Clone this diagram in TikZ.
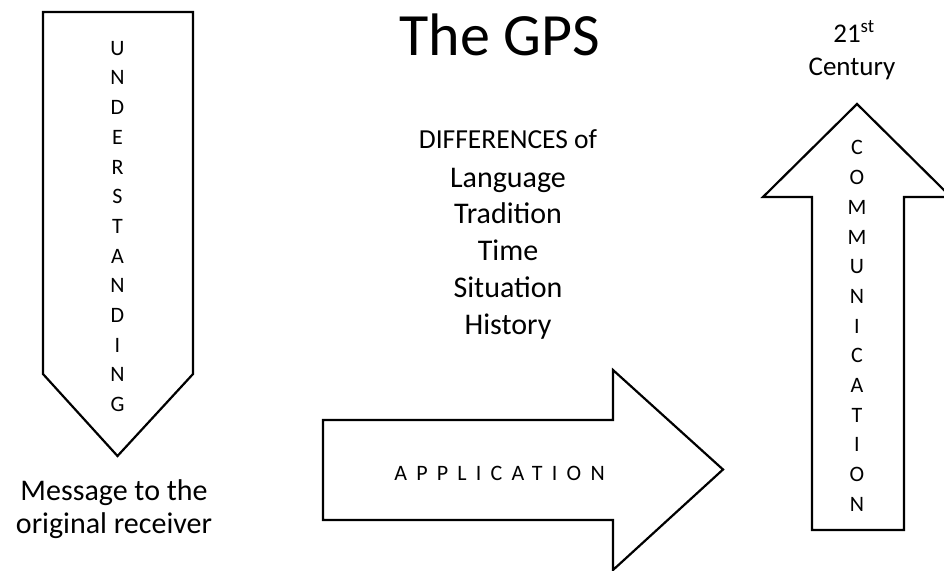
\documentclass[tikz,border=0pt]{standalone}
\usepackage{fontspec}
\setmainfont{Carlito}
\begin{document}
\begin{tikzpicture}[x=1pt,y=-1pt,
  shapeline/.style={draw=black,line width=2.2pt,line join=miter,fill=white},
  vletters/.style={align=center,inner sep=0pt,font=\fontsize{22}{29.7}\selectfont},
  listtext/.style={anchor=base,inner sep=0pt,font=\fontsize{30}{36}\selectfont},
  labeltext/.style={anchor=base,inner sep=0pt,font=\fontsize{30}{33}\selectfont}]
\useasboundingbox (0,0) rectangle (944,570);
% left arrow (down)
\draw[shapeline] (43,12) -- (193,12) -- (193,374) -- (117.5,456) -- (43,374) -- cycle;
% middle arrow (right)
\draw[shapeline] (323,420) -- (613,420) -- (613,370) -- (723,469.5) -- (613,570) -- (613,520) -- (323,520) -- cycle;
% right arrow (up)
\draw[shapeline] (812,530) -- (812,197) -- (763,197) -- (857,104) -- (951,197) -- (904,197) -- (904,530) -- cycle;

\node[anchor=base,inner sep=0pt,font=\fontsize{60}{72}\selectfont] (title) at (500,55) {The GPS};

\node[vletters] (understanding) at (117.5,226.5) {U\\N\\D\\E\\R\\S\\T\\A\\N\\D\\I\\N\\G};
\node[vletters] (communication) at (857,326) {C\\O\\M\\M\\U\\N\\I\\C\\A\\T\\I\\O\\N};

\node[anchor=base,inner sep=0pt,font=\fontsize{22}{26}\selectfont\addfontfeature{LetterSpace=42}] (application) at (499.5,480) {APPLICATION};

\node[labeltext] (msg1) at (114,500) {Message to the};
\node[labeltext] (msg2) at (114,533) {original receiver};

\node[anchor=base,inner sep=0pt,font=\fontsize{27.5}{32}\selectfont] (diff) at (508,148) {DIFFERENCES of};
\node[listtext] (lang) at (508,187) {Language};
\node[listtext] (trad) at (508,223) {Tradition};
\node[listtext] (time) at (508,260) {Time};
\node[listtext] (sit) at (508,297) {Situation};
\node[listtext] (hist) at (508,334) {History};

\node[anchor=base,inner sep=0pt,font=\fontsize{27}{32}\selectfont] (cent21) at (854,42) {21\textsuperscript{st}};
\node[anchor=base,inner sep=0pt,font=\fontsize{27}{32}\selectfont] (century) at (852,75) {Century};
\end{tikzpicture}
\end{document}
